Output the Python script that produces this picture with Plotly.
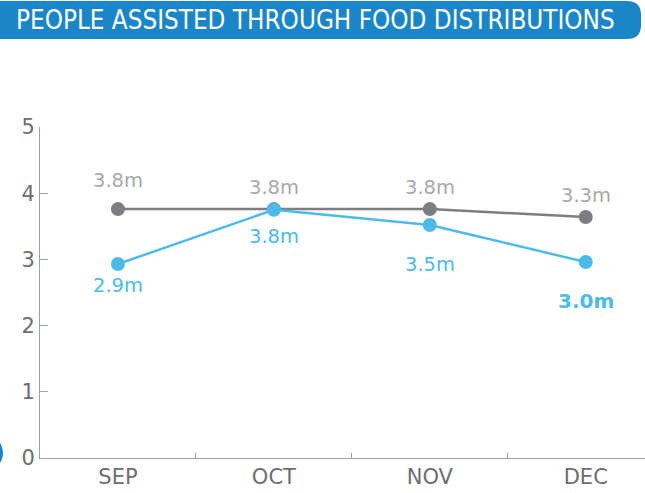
import plotly.graph_objects as go

months = ["SEP", "OCT", "NOV", "DEC"]
planned = [3.76, 3.76, 3.76, 3.64]
planned_labels = ["3.8m", "3.8m", "3.8m", "3.3m"]
assisted = [2.93, 3.75, 3.52, 2.96]
assisted_labels = ["2.9m", "3.8m", "3.5m", "3.0m"]
y_ticks = [0, 1, 2, 3, 4, 5]
title_text = "PEOPLE ASSISTED THROUGH FOOD DISTRIBUTIONS"

GRAY = "#7d7e81"
GRAY_TXT = "#a7a9ac"
BLUE = "#4dbbea"
DARK_BLUE = "#1a86c8"
AXIS_TXT = "#6d6e71"
FONT = "DejaVu Sans, Verdana, sans-serif"

# label offsets (px) -- styling only
planned_shift = [29, 22, 22, 22]
assisted_shift = [-21, -27, -40, -39]

fig = go.Figure()
fig.add_trace(go.Scatter(x=months, y=planned, mode="lines+markers",
                         line=dict(color=GRAY, width=2.5),
                         marker=dict(color=GRAY, size=14), hoverinfo="skip"))
fig.add_trace(go.Scatter(x=months, y=assisted, mode="lines+markers",
                         line=dict(color=BLUE, width=2.5),
                         marker=dict(color=BLUE, size=14), hoverinfo="skip"))

ann = []
for i, m in enumerate(months):
    ann.append(dict(x=m, y=planned[i], text=planned_labels[i], showarrow=False,
                    yshift=planned_shift[i], xref="x", yref="y",
                    font=dict(family=FONT, size=19.5, color=GRAY_TXT)))
    last = i == len(months) - 1
    ann.append(dict(x=m, y=assisted[i],
                    text=("<b>%s</b>" % assisted_labels[i]) if last else assisted_labels[i],
                    showarrow=False, yshift=assisted_shift[i], xref="x", yref="y",
                    font=dict(family=FONT, size=(20 if last else 19.5), color=BLUE)))

ann.append(dict(x=(14 - 40) / 605, y=(458 - 20) / 331, xref="paper", yref="paper",
                xanchor="left", yanchor="middle", showarrow=False, text=title_text,
                font=dict(family="DejaVu Sans Condensed, DejaVu Sans, sans-serif",
                          size=25.8, color="white")))

shapes = [
    dict(type="path", xref="paper", yref="paper", xsizemode="pixel", ysizemode="pixel",
         xanchor=0, yanchor=0,
         path="M -40,419 L 587,419 Q 601,419 601,433 L 601,443 Q 601,457 587,457 L -40,457 Z",
         fillcolor=DARK_BLUE, line=dict(width=0), layer="above"),
    dict(type="circle", xref="paper", yref="paper", xsizemode="pixel", ysizemode="pixel",
         xanchor=0, yanchor=0, x0=-77, x1=-37, y0=-14, y1=24,
         fillcolor=DARK_BLUE, line=dict(width=0), layer="above"),
]

fig.update_layout(
    width=645, height=493,
    margin=dict(l=40, r=0, t=127, b=35),
    paper_bgcolor="white", plot_bgcolor="white",
    showlegend=False,
    annotations=ann, shapes=shapes,
    xaxis=dict(type="category", range=[-0.5, 3.38], showgrid=False, zeroline=False,
               showline=True, linecolor="#9d9fa2", linewidth=1,
               ticks="inside", tickson="boundaries", ticklen=5, tickcolor="#9d9fa2",
               tickfont=dict(family=FONT, size=21, color=AXIS_TXT)),
    yaxis=dict(range=[0, 5], tickvals=y_ticks, showgrid=False, zeroline=False,
               showline=True, linecolor="#9d9fa2", linewidth=1,
               ticks="inside", ticklen=8, tickcolor="#9d9fa2",
               tickfont=dict(family=FONT, size=21, color=AXIS_TXT)),
)

fig.write_html("out.html", config={"displayModeBar": False},
               post_script="document.body.style.margin='0';document.body.style.overflow='hidden';")
